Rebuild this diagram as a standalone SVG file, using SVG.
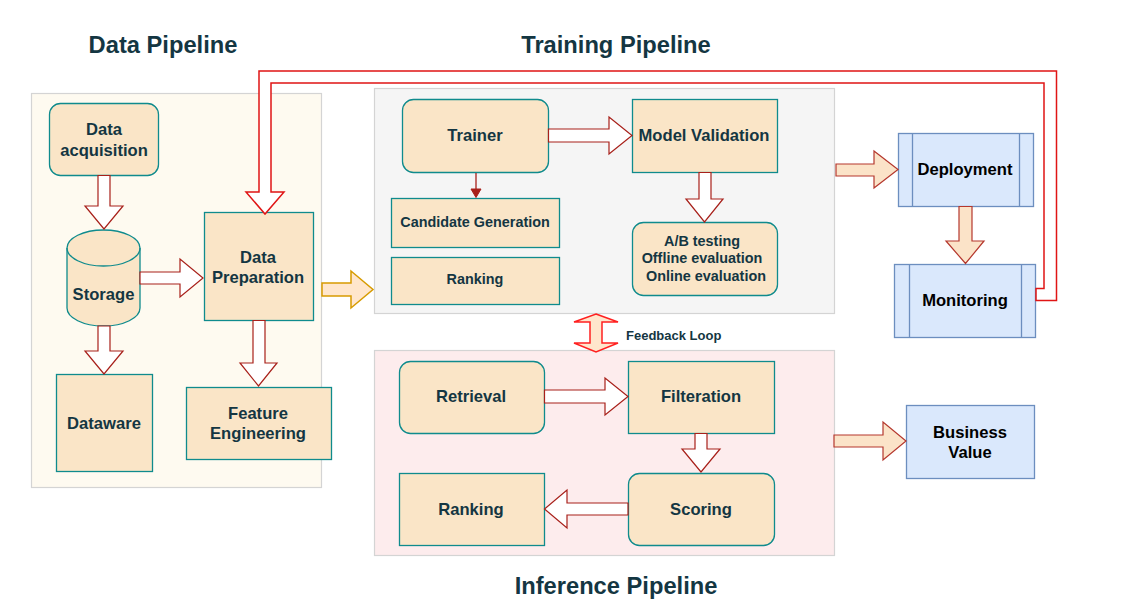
<svg xmlns="http://www.w3.org/2000/svg" width="1126" height="604" viewBox="0 0 1126 604">
<style>
text{font-family:"Liberation Sans",Arial,Helvetica,sans-serif;font-weight:bold;fill:#143642;text-anchor:middle}
.title{font-size:23.7px}
.lbl{font-size:16.6px}
.sm{font-size:14.4px}
.fb{font-size:13px;text-anchor:start}
.blk{fill:#000}
.node{fill:#FAE5C7;stroke:#0F8B8D;stroke-width:1.3}
.blue{fill:#dae8fc;stroke:#6c8ebf;stroke-width:1.3}
.cont{stroke:#d4d4d4;stroke-width:1.2}
.fa{fill:#fff;stroke:#A8201A;stroke-width:1.2;stroke-linejoin:miter}
.fp{fill:#fbe3c8;stroke:#b5372d;stroke-width:1.2}
.fo{fill:#ffe6cc;stroke:#d79b00;stroke-width:1.5}
.fr{fill:#ffe6cc;stroke:#ff2020;stroke-width:1.5}
.loop{fill:#fff;stroke:#e01515;stroke-width:1.5}
</style>
<rect width="1126" height="604" fill="#fff"/>
<g id="titles">
<text class="title" x="163" y="53">Data Pipeline</text>
<text class="title" x="616" y="53">Training Pipeline</text>
<text class="title" x="616" y="594">Inference Pipeline</text>
</g>
<g id="containers">
<rect id="data-pipeline" class="cont" x="31.5" y="93.5" width="290" height="394" fill="#fefaf0"/>
<rect id="training-pipeline" class="cont" x="374.5" y="88.5" width="460" height="225" fill="#f5f5f5"/>
<rect id="inference-pipeline" class="cont" x="374.5" y="350.5" width="460" height="205" fill="#fdeced"/>
</g>
<g id="n-data-acquisition">
<rect class="node" x="49.5" y="103.5" width="109" height="72" rx="11"/>
<text class="lbl" x="104" y="135">Data</text>
<text class="lbl" x="104" y="156">acquisition</text>
</g>
<g id="n-storage">
<path class="node" d="M67,248 A36.5,18 0 0 1 140,248 L140,308 A36.5,18 0 0 1 67,308 Z"/>
<path d="M67,248 A36.5,18 0 0 0 140,248" fill="none" stroke="#0F8B8D" stroke-width="1.3"/>
<text class="lbl" x="103.5" y="300">Storage</text>
</g>
<g id="n-dataware">
<rect class="node" x="56.5" y="374.5" width="96" height="97"/>
<text class="lbl" x="104" y="429">Dataware</text>
</g>
<g id="n-data-preparation">
<rect class="node" x="204.5" y="212.5" width="109" height="108"/>
<text class="lbl" x="258" y="263">Data</text>
<text class="lbl" x="258" y="283">Preparation</text>
</g>
<g id="n-feature-engineering">
<rect class="node" x="186.5" y="387.5" width="145" height="72"/>
<text class="lbl" x="258" y="419">Feature</text>
<text class="lbl" x="258" y="439">Engineering</text>
</g>
<g id="n-trainer">
<rect class="node" x="402.5" y="99.5" width="146" height="73" rx="11"/>
<text class="lbl" x="475" y="141">Trainer</text>
</g>
<g id="n-model-validation">
<rect class="node" x="632.5" y="99.5" width="145" height="73"/>
<text class="lbl" x="704" y="141">Model Validation</text>
</g>
<g id="n-candidate-generation">
<rect class="node" x="391.5" y="198.5" width="168" height="49"/>
<text class="sm" x="475" y="227">Candidate Generation</text>
</g>
<g id="n-ranking-training">
<rect class="node" x="391.5" y="257.5" width="168" height="47"/>
<text class="sm" x="475" y="284">Ranking</text>
</g>
<g id="n-evaluation">
<rect class="node" x="632.5" y="222.5" width="145" height="73" rx="11"/>
<text class="sm" x="702" y="246">A/B testing</text>
<text class="sm" x="702" y="263">Offline evaluation</text>
<text class="sm" x="706" y="281">Online evaluation</text>
</g>
<g id="n-retrieval">
<rect class="node" x="399.5" y="361.5" width="145" height="72" rx="11"/>
<text class="lbl" x="471" y="402">Retrieval</text>
</g>
<g id="n-filteration">
<rect class="node" x="628.5" y="361.5" width="146" height="72"/>
<text class="lbl" x="701" y="402">Filteration</text>
</g>
<g id="n-scoring">
<rect class="node" x="628.5" y="473.5" width="146" height="72" rx="11"/>
<text class="lbl" x="701" y="515">Scoring</text>
</g>
<g id="n-ranking-inference">
<rect class="node" x="399.5" y="473.5" width="145" height="72"/>
<text class="lbl" x="471" y="515">Ranking</text>
</g>
<g id="n-deployment">
<rect class="blue" x="898.5" y="133.5" width="135" height="73"/>
<line x1="912.5" y1="133.5" x2="912.5" y2="206.5" stroke="#6c8ebf" stroke-width="1.3"/>
<line x1="1019.5" y1="133.5" x2="1019.5" y2="206.5" stroke="#6c8ebf" stroke-width="1.3"/>
<text class="lbl blk" x="965" y="175">Deployment</text>
</g>
<g id="n-monitoring">
<rect class="blue" x="894.5" y="264.5" width="141" height="73"/>
<line x1="909.5" y1="264.5" x2="909.5" y2="337.5" stroke="#6c8ebf" stroke-width="1.3"/>
<line x1="1021.5" y1="264.5" x2="1021.5" y2="337.5" stroke="#6c8ebf" stroke-width="1.3"/>
<text class="lbl blk" x="965" y="306">Monitoring</text>
</g>
<g id="n-business-value">
<rect class="blue" x="906.5" y="405.5" width="128" height="73"/>
<text class="lbl blk" x="970" y="438">Business</text>
<text class="lbl blk" x="970" y="458">Value</text>
</g>
<g id="connectors">
<polygon class="fa" points="98,175.5 110,175.5 110,206 123,206 104,229 85,206 98,206"/>
<polygon class="fa" points="98,326 110,326 110,351 123,351 104,374 85,351 98,351"/>
<polygon class="fa" points="140,272 180,272 180,259 203,278 180,297 180,284 140,284"/>
<polygon class="fa" points="253,320.5 265,320.5 265,363 277,363 258.5,386 240,363 253,363"/>
<polygon class="fo" points="322,283 351,283 351,271 373,289.5 351,308 351,296 322,296"/>
<polygon class="fa" points="548.5,129 609,129 609,117 632,135.5 609,154 609,142 548.5,142"/>
<line x1="476" y1="173" x2="476" y2="190" stroke="#A8201A" stroke-width="1.3"/>
<polygon points="471,189 481,189 476,197.5" fill="#A8201A" stroke="#A8201A" stroke-width="1"/>
<polygon class="fa" points="699,172.5 711,172.5 711,199 723,199 704.5,222 686,199 699,199"/>
<polygon class="fa" points="544.5,390 605,390 605,378 628,396.5 605,415 605,403 544.5,403"/>
<polygon class="fa" points="695,433.5 707,433.5 707,449 720,449 701,472 682,449 695,449"/>
<polygon class="fa" points="628,503 567,503 567,490 544.5,509 567,528 567,515 628,515"/>
<polygon class="fp" points="836,164 874,164 874,151 898,169.5 874,188 874,176 836,176"/>
<polygon class="fp" points="959,206.5 972,206.5 972,241 984,241 965.5,263.5 946,241 959,241"/>
<polygon class="fp" points="834,435 883,435 883,422 906,441 883,460 883,447 834,447"/>
<polygon class="fr" points="596,314 618,322 602,322 602,343 618,343 596,352 574,343 590,343 590,322 574,322"/>
<text class="fb" x="626" y="339.5">Feedback Loop</text>
<polygon class="loop" points="1036,300.5 1056.5,300.5 1056.5,71 259,71 259,192 246,192 265,214 284,192 271,192 271,83 1044,83 1044,288.5 1036,288.5"/>
</g>
</svg>
